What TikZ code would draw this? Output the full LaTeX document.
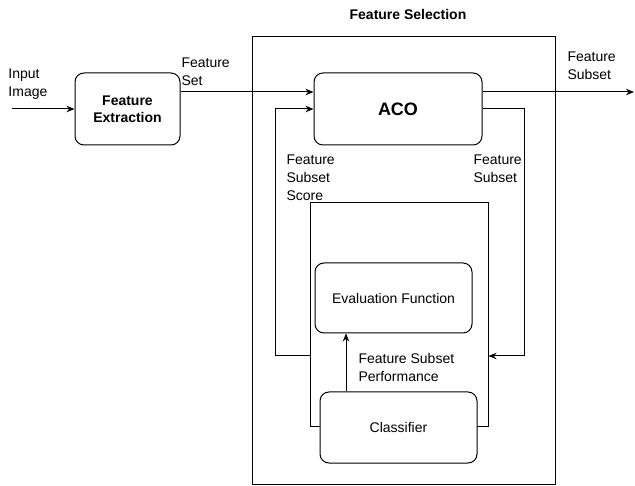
\documentclass[tikz,border=0pt]{standalone}
\usepackage{fontspec}
\setmainfont{Liberation Sans}
\usetikzlibrary{arrows.meta}
\begin{document}
\begin{tikzpicture}[x=1pt,y=-1pt, line width=1pt, >={Stealth[length=8pt,width=6.5pt]},
  box/.style={draw, rounded corners=9pt, fill=white, inner sep=0pt, align=center},
  frame/.style={draw, inner sep=0pt},
  lbl/.style={anchor=west, align=left, inner sep=0pt, font=\fontsize{14}{18}\selectfont},
  bfont/.style={font=\fontsize{14}{17}\selectfont\bfseries}]
\useasboundingbox (0,0) rectangle (635,486);
% frames
\node[frame, minimum width=303pt, minimum height=447pt] (fs) at (403.5,260.5) {};
\node[inner sep=0pt, bfont] (title) at (408,15) {Feature Selection};
\node[frame, minimum width=178pt, minimum height=224pt] (inner) at (399,315) {};
% boxes
\node[box, minimum width=105pt, minimum height=72pt, bfont] (fe) at (127.5,109) {Feature\\Extraction};
\node[box, minimum width=168pt, minimum height=72pt, font=\fontsize{18}{20}\selectfont\bfseries] (aco) at (398,109) {ACO};
\node[box, minimum width=157pt, minimum height=70pt, font=\fontsize{14}{17}\selectfont] (ev) at (393.5,298) {Evaluation Function};
\node[box, minimum width=157pt, minimum height=71pt, font=\fontsize{14}{17}\selectfont] (cls) at (398.5,427.5) {Classifier};
% connectors
\coordinate (in) at (12,109);
\coordinate (out) at (634,92);
\draw[->] (in) -- (fe.west);
\draw[->] ([yshift=17pt]fe.east) -- ([yshift=17pt]aco.west);
\draw[->] ([yshift=17pt]aco.east) -- (out);
\draw[->] (inner.west |- 0,356) -- (275,356) |- (aco.west);
\draw[->] (aco.east) -| (524,356) -- (inner.east |- 0,356);
\draw[->] (cls.north -| 346,0) -- (ev.south -| 346,0);
% labels
\node[lbl] (l1) at (8,84) {Input\\Image};
\node[lbl] (l2) at (181,72) {Feature\\Set};
\node[lbl] (l3) at (567,66) {Feature\\Subset};
\node[lbl] (l4) at (473,169) {Feature\\Subset};
\node[lbl] (l5) at (286,178) {Feature\\Subset\\Score};
\node[lbl] (l6) at (358,367) {Feature Subset\\Performance};
\end{tikzpicture}
\end{document}
